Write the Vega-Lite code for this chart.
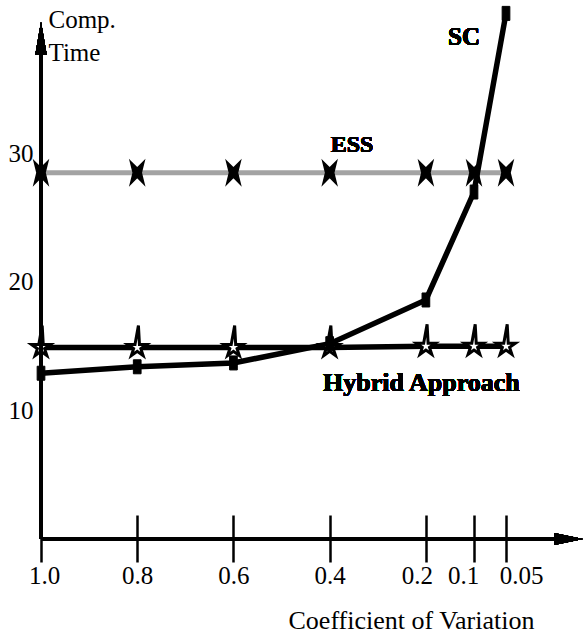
{
  "$schema": "https://vega.github.io/schema/vega-lite/v6.json",
  "width": 542,
  "height": 517,
  "autosize": "none",
  "padding": {"left": 41, "top": 22, "right": 1, "bottom": 95},
  "background": "white",
  "config": {"view": {"stroke": null}, "font": "Liberation Serif"},
  "data": {
    "values": [
      {"cv": 1.0, "time": 28.5, "method": "ESS"},
      {"cv": 0.8, "time": 28.5, "method": "ESS"},
      {"cv": 0.6, "time": 28.5, "method": "ESS"},
      {"cv": 0.4, "time": 28.5, "method": "ESS"},
      {"cv": 0.2, "time": 28.5, "method": "ESS"},
      {"cv": 0.1, "time": 28.5, "method": "ESS"},
      {"cv": 0.05, "time": 28.5, "method": "ESS"},
      {"cv": 1.0, "time": 14.9, "method": "Hybrid"},
      {"cv": 0.8, "time": 14.9, "method": "Hybrid"},
      {"cv": 0.6, "time": 14.9, "method": "Hybrid"},
      {"cv": 0.4, "time": 14.9, "method": "Hybrid"},
      {"cv": 0.2, "time": 15.0, "method": "Hybrid"},
      {"cv": 0.1, "time": 15.0, "method": "Hybrid"},
      {"cv": 0.05, "time": 15.0, "method": "Hybrid"},
      {"cv": 1.0, "time": 12.9, "method": "SC"},
      {"cv": 0.8, "time": 13.4, "method": "SC"},
      {"cv": 0.6, "time": 13.7, "method": "SC"},
      {"cv": 0.4, "time": 15.2, "method": "SC"},
      {"cv": 0.2, "time": 18.6, "method": "SC"},
      {"cv": 0.1, "time": 27.0, "method": "SC"},
      {"cv": 0.05, "time": 40.9, "method": "SC"}
    ]
  },
  "layer": [
    {
      "transform": [{"filter": "datum.method === 'ESS'"}],
      "mark": {"type": "line", "stroke": "#a3a3a3", "strokeWidth": 5},
      "encoding": {
        "x": {
          "field": "cv",
          "type": "quantitative",
          "scale": {"domain": [1, 0.1, 0.05, -0.2], "range": [0, 433, 465, 542], "nice": false, "zero": false},
          "axis": {
            "values": [1, 0.8, 0.6, 0.4, 0.2, 0.1, 0.05],
            "labelExpr": "datum.value == 1 ? '1.0' : '' + datum.value",
            "domain": false,
            "grid": false,
            "offset": -24,
            "tickSize": 47,
            "tickWidth": 2.5,
            "tickColor": "black",
            "labelFontSize": 25,
            "labelColor": "black",
            "labelFont": "Liberation Serif",
            "labelPadding": 1,
            "labelFlush": false,
            "labelOverlap": false,
            "labelOffset": {
              "condition": [
                {"test": "datum.value == 0.05", "value": 15},
                {"test": "datum.value == 0.1", "value": -11},
                {"test": "datum.value == 0.2", "value": -9},
                {"test": "datum.value == 1", "value": 3}
              ],
              "value": 0
            },
            "title": "Coefficient of Variation",
            "titleFontSize": 26,
            "titleFontWeight": "normal",
            "titleColor": "black",
            "titleFont": "Liberation Serif",
            "titleX": 370,
            "titleY": 113,
            "titleAlign": "center",
            "titleBaseline": "alphabetic"
          }
        },
        "y": {
          "field": "time",
          "type": "quantitative",
          "scale": {"domain": [0, 40.23], "nice": false, "zero": false},
          "axis": {
            "values": [10, 20, 30],
            "domain": false,
            "ticks": false,
            "grid": false,
            "labelFontSize": 25,
            "labelColor": "black",
            "labelFont": "Liberation Serif",
            "labelPadding": 8,
            "title": ["Comp.", "Time"],
            "titleAngle": 0,
            "titleAlign": "left",
            "titleBaseline": "alphabetic",
            "titleX": 7,
            "titleY": 5,
            "titleFontSize": 25,
            "titleFontWeight": "normal",
            "titleColor": "black",
            "titleFont": "Liberation Serif",
            "titleLineHeight": 33
          }
        }
      }
    },
    {
      "transform": [{"filter": "datum.method === 'ESS'"}],
      "mark": {"type": "point", "shape": "M-0.6,-1L0,-0.4L0.6,-1L0.35,0L0.6,1L0,0.4L-0.6,1L-0.35,0Z", "filled": true, "fill": "black", "stroke": "black", "strokeWidth": 1.5, "size": 529, "opacity": 1},
      "encoding": {
        "x": {"field": "cv", "type": "quantitative"},
        "y": {"field": "time", "type": "quantitative"}
      }
    },
    {
      "transform": [{"filter": "datum.method === 'Hybrid'"}],
      "mark": {"type": "line", "stroke": "black", "strokeWidth": 5.5},
      "encoding": {
        "x": {"field": "cv", "type": "quantitative"},
        "y": {"field": "time", "type": "quantitative"}
      }
    },
    {
      "transform": [{"filter": "datum.method === 'SC'"}],
      "mark": {"type": "line", "stroke": "black", "strokeWidth": 5.5},
      "encoding": {
        "x": {"field": "cv", "type": "quantitative"},
        "y": {"field": "time", "type": "quantitative"}
      }
    },
    {
      "transform": [{"filter": "datum.method === 'Hybrid'"}],
      "mark": {"type": "point", "shape": "M0.12,-2.2L0.223,-0.307L0.951,-0.309L0.361,0.117L0.588,0.809L0,0.38L-0.588,0.809L-0.361,0.117L-0.951,-0.309L-0.223,-0.307Z", "filled": true, "fill": "white", "stroke": "black", "strokeWidth": 3, "size": 400, "opacity": 1},
      "encoding": {
        "x": {"field": "cv", "type": "quantitative"},
        "y": {"field": "time", "type": "quantitative"}
      }
    },
    {
      "transform": [{"filter": "datum.method === 'SC'"}],
      "mark": {"type": "point", "shape": "M-0.55,-1L0.55,-1L0.55,1L-0.55,1Z", "filled": true, "fill": "black", "stroke": "black", "strokeWidth": 1, "size": 196, "opacity": 1},
      "encoding": {
        "x": {"field": "cv", "type": "quantitative"},
        "y": {"field": "time", "type": "quantitative"}
      }
    },
    {
      "mark": {"type": "rule", "strokeWidth": 3.5, "color": "black"},
      "encoding": {"x": {"datum": 1}, "y": {"datum": 0}, "y2": {"datum": 38}}
    },
    {
      "mark": {"type": "rule", "strokeWidth": 3, "color": "black"},
      "encoding": {"x": {"datum": 1}, "x2": {"datum": -0.12}, "y": {"datum": 0}}
    },
    {
      "mark": {"type": "point", "shape": "M0,-1L0.35,1L-0.35,1Z", "filled": true, "color": "black", "size": 1089, "opacity": 1},
      "encoding": {"x": {"datum": 1}, "y": {"datum": 38.95}}
    },
    {
      "mark": {"type": "point", "shape": "M1,0L-1,-0.42L-1,0.42Z", "filled": true, "color": "black", "size": 841, "opacity": 1},
      "encoding": {"x": {"datum": -0.153}, "y": {"datum": 0}}
    },
    {
      "mark": {"type": "text", "text": "SC", "font": "Liberation Serif", "fontWeight": "bold", "fontSize": 25, "align": "center", "baseline": "middle", "color": "black"},
      "encoding": {"x": {"datum": 0.1206}, "y": {"datum": 39.07}}
    },
    {
      "mark": {"type": "text", "text": "ESS", "font": "Liberation Serif", "fontWeight": "bold", "fontSize": 24, "align": "center", "baseline": "middle", "color": "black"},
      "encoding": {"x": {"datum": 0.3534}, "y": {"datum": 30.66}}
    },
    {
      "mark": {"type": "text", "text": "Hybrid Approach", "font": "Liberation Serif", "fontWeight": "bold", "fontSize": 26, "align": "left", "baseline": "middle", "color": "black"},
      "encoding": {"x": {"datum": 0.4137}, "y": {"datum": 12.14}}
    }
  ]
}
